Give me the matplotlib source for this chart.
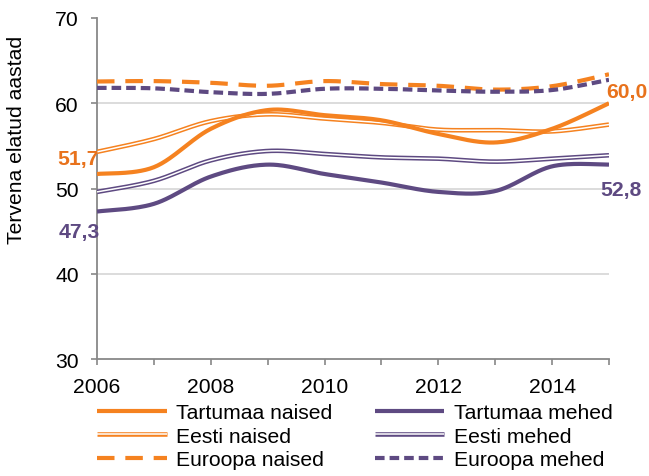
import numpy as np
import matplotlib
matplotlib.use("Agg")
import matplotlib.pyplot as plt
import matplotlib.patheffects as pe

years = [2006, 2007, 2008, 2009, 2010, 2011, 2012, 2013, 2014, 2015]
tartumaa_naised = [51.7, 52.5, 57.0, 59.2, 58.6, 58.0, 56.4, 55.4, 57.0, 60.0]
tartumaa_mehed = [47.3, 48.2, 51.4, 52.8, 51.7, 50.7, 49.6, 49.7, 52.6, 52.8]
eesti_naised = [54.3, 55.8, 57.9, 58.7, 58.2, 57.7, 56.9, 56.85, 56.7, 57.5]
eesti_mehed = [49.6, 50.9, 53.3, 54.4, 54.05, 53.65, 53.5, 53.15, 53.5, 53.9]
euroopa_naised = [62.55, 62.6, 62.4, 62.05, 62.6, 62.25, 62.05, 61.6, 62.0, 63.4]
euroopa_mehed = [61.8, 61.75, 61.3, 61.1, 61.7, 61.7, 61.5, 61.35, 61.55, 62.75]

ORANGE = "#F58220"
ORANGE_TXT = "#E8721C"
PURPLE = "#5E4A82"

plt.rcParams["font.family"] = ["Liberation Sans", "DejaVu Sans"]
FS = 15.2


def smooth(x, y, n=30):
    """Catmull-Rom style smoothing (like Excel's smoothed line)."""
    x = np.asarray(x, float)
    y = np.asarray(y, float)
    P = np.column_stack([x, y])
    Pext = np.vstack([P[0], P, P[-1]])
    xs, ys = [], []
    t = np.linspace(0, 1, n)
    for i in range(len(P) - 1):
        p0, p1, p2, p3 = Pext[i], Pext[i + 1], Pext[i + 2], Pext[i + 3]
        c1 = p1 + (p2 - p0) / 6.0
        c2 = p2 - (p3 - p1) / 6.0
        b = ((1 - t) ** 3)[:, None] * p1 + (3 * (1 - t) ** 2 * t)[:, None] * c1 \
            + (3 * (1 - t) * t ** 2)[:, None] * c2 + (t ** 3)[:, None] * p2
        if i > 0:
            b = b[1:]
        xs.append(b[:, 0])
        ys.append(b[:, 1])
    return np.concatenate(xs), np.concatenate(ys)


fig = plt.figure(figsize=(6.49, 4.77), dpi=100)
ax = fig.add_axes([97 / 649, 1 - 360 / 477, (609 - 97) / 649, (360 - 19) / 477])

LW = 3.0
handles = {}

def plot_series(vals, label, color, style):
    sx, sy = smooth(years, vals)
    if style == "solid":
        l, = ax.plot(sx, sy, color=color, lw=LW, label=label, solid_capstyle="butt", zorder=3)
    elif style == "double":
        l, = ax.plot(sx, sy, color="white", lw=1.1, label=label, solid_capstyle="butt", zorder=3,
                     path_effects=[pe.Stroke(linewidth=3.3, foreground=color, capstyle="butt"), pe.Normal()])
    elif style == "dash_long":
        l, = ax.plot(sx, sy, color=color, lw=LW, label=label, dashes=(4.2, 2.6),
                     dash_capstyle="butt", zorder=3)
    else:
        l, = ax.plot(sx, sy, color=color, lw=LW, label=label, dashes=(2.3, 1.2),
                     dash_capstyle="butt", zorder=3)
    handles[label] = l

plot_series(euroopa_naised, "Euroopa naised", ORANGE, "dash_long")
plot_series(euroopa_mehed, "Euroopa mehed", PURPLE, "dash_short")
plot_series(eesti_naised, "Eesti naised", ORANGE, "double")
plot_series(eesti_mehed, "Eesti mehed", PURPLE, "double")
plot_series(tartumaa_naised, "Tartumaa naised", ORANGE, "solid")
plot_series(tartumaa_mehed, "Tartumaa mehed", PURPLE, "solid")

ax.set_xlim(years[0], years[-1])
ax.set_ylim(30, 70)
ax.set_yticks([30, 40, 50, 60, 70])
ax.set_xticks(years)
ax.set_xticklabels([str(y) if (y % 2 == 0 and y < 2015) else "" for y in years])
ax.tick_params(axis="both", labelsize=FS, length=4.5, width=1.2, color="#888888",
               direction="out", pad=8.5, labelcolor="black")
for s in ["top", "right"]:
    ax.spines[s].set_visible(False)
for s in ["left", "bottom"]:
    ax.spines[s].set_color("#888888")
    ax.spines[s].set_linewidth(1.3)
ax.yaxis.grid(True, color="#D9D9D9", lw=1.3)
ax.set_axisbelow(True)
fig.canvas.draw()
for tk, gl in zip(ax.get_yticks(), ax.yaxis.get_gridlines()):
    if tk >= 70 or tk <= 30:
        gl.set_visible(False)

# value labels
ax.annotate(f"{tartumaa_naised[0]:.1f}".replace(".", ","), xy=(99 / 649, 1 - 160 / 477),
            xycoords="figure fraction", ha="right", va="center", fontsize=FS,
            fontweight="bold", color=ORANGE_TXT, annotation_clip=False)
ax.annotate(f"{tartumaa_mehed[0]:.1f}".replace(".", ","), xy=(100 / 649, 1 - 233 / 477),
            xycoords="figure fraction", ha="right", va="center", fontsize=FS,
            fontweight="bold", color=PURPLE, annotation_clip=False)
ax.annotate(f"{tartumaa_naised[-1]:.1f}".replace(".", ","), xy=(606 / 649, 1 - 93 / 477),
            xycoords="figure fraction", ha="left", va="center", fontsize=FS,
            fontweight="bold", color=ORANGE_TXT, annotation_clip=False)
ax.annotate(f"{tartumaa_mehed[-1]:.1f}".replace(".", ","), xy=(600 / 649, 1 - 190.5 / 477),
            xycoords="figure fraction", ha="left", va="center", fontsize=FS,
            fontweight="bold", color=PURPLE, annotation_clip=False)

fig.text(17 / 649, 1 - 140 / 477, "Tervena elatud aastad", rotation=90,
         ha="center", va="center", fontsize=FS)

order = ["Tartumaa naised", "Eesti naised", "Euroopa naised",
         "Tartumaa mehed", "Eesti mehed", "Euroopa mehed"]
fig.legend([handles[k] for k in order], order, ncol=2, loc="upper left",
           bbox_to_anchor=(97 / 649, 1 - 404 / 477), frameon=False, fontsize=FS,
           handlelength=3.3, handletextpad=0.45, columnspacing=2.0,
           labelspacing=0.22, borderpad=0, borderaxespad=0)

fig.savefig("out.png", dpi=100)
